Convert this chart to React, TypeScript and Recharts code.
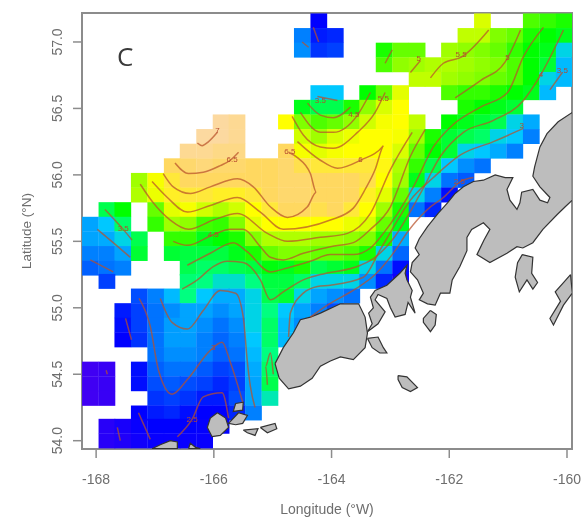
import React from 'react';
import { ScatterChart, Scatter, XAxis, YAxis, ReferenceArea } from 'recharts';

const gridLons = [-168.1, -167.82, -167.55, -167.27, -166.99, -166.71, -166.44, -166.16, -165.88, -165.61, -165.33, -165.05, -164.77, -164.5, -164.22, -163.94, -163.66, -163.39, -163.11, -162.83, -162.55, -162.28, -162.0, -161.72, -161.44, -161.17, -160.89, -160.61, -160.33, -160.05];
const gridLats = [57.16, 57.05, 56.94, 56.83, 56.72, 56.62, 56.51, 56.4, 56.29, 56.18, 56.07, 55.96, 55.85, 55.74, 55.63, 55.52, 55.41, 55.3, 55.2, 55.09, 54.98, 54.87, 54.76, 54.65, 54.54, 54.43, 54.32, 54.21, 54.11, 54.0];

const _ = null;
// one row per latitude, top to bottom, one value per longitude
const gridValues: (number | null)[][] = [
  [_, _, _, _, _, _, _, _, _, _, _, _, _, _, 2.0, _, _, _, _, _, _, _, _, _, 5.6, _, _, 4.8, 4.7, 4.6],
  [_, _, _, _, _, _, _, _, _, _, _, _, _, 3.0, 2.2, 2.3, _, _, _, _, _, _, _, 5.4, 5.4, 5.0, 4.9, 4.6, 4.5, 4.4],
  [_, _, _, _, _, _, _, _, _, _, _, _, _, 3.1, 2.4, 2.5, _, _, 4.6, 4.9, 4.9, _, 5.2, 5.1, 5.0, 4.9, 4.7, 4.5, 4.4, 3.6],
  [_, _, _, _, _, _, _, _, _, _, _, _, _, _, _, _, _, _, 4.8, 5.1, 5.2, 5.3, 5.3, 5.2, 5.1, 5.0, 4.8, 4.5, 4.3, 3.4],
  [_, _, _, _, _, _, _, _, _, _, _, _, _, _, _, _, _, _, _, _, 5.4, 5.4, 5.2, 5.1, 5.0, 4.9, 4.8, 4.5, 3.6, 3.4],
  [_, _, _, _, _, _, _, _, _, _, _, _, _, _, 3.5, 3.5, _, 4.5, 4.9, 5.7, _, _, 4.8, 4.7, 4.7, 4.6, 4.5, 4.4, 3.4, _],
  [_, _, _, _, _, _, _, _, _, _, _, _, _, 4.4, 4.2, 4.2, 4.6, 5.1, 5.6, 6.0, _, _, _, 4.6, 4.5, 4.4, 4.3, _, _, _],
  [_, _, _, _, _, _, _, _, 7.0, 6.9, _, _, 6.0, 5.0, 4.8, 4.9, 5.1, 5.5, 5.9, 6.0, 5.4, _, 4.5, 4.4, 4.3, 4.2, 3.6, 3.3, _, _],
  [_, _, _, _, _, _, _, 7.0, 7.0, 6.9, _, _, _, 5.5, 5.2, 5.6, 5.8, 6.0, 6.0, 5.9, 5.2, 4.6, 4.3, 4.2, 4.1, 3.6, 3.5, 3.0, _, _],
  [_, _, _, _, _, _, 6.9, 6.9, 6.8, 6.8, _, _, 6.5, 5.9, 5.7, 5.9, 6.0, 6.0, 6.0, 5.6, 4.9, 4.5, 4.3, 3.6, 3.5, 3.3, 3.0, _, _, _],
  [_, _, _, _, _, 6.5, 6.6, 6.7, 6.6, 6.6, 6.5, 6.5, 6.6, 6.4, 6.3, 6.3, 6.3, 6.3, 6.1, 5.3, 4.7, 4.2, 3.5, 3.1, 2.9, _, _, _, _, _],
  [_, _, _, 5.2, 5.9, 6.3, 6.5, 6.5, 6.5, 6.5, 6.5, 6.5, 6.6, 6.6, 6.5, 6.5, 6.5, 6.4, 6.0, 5.2, 4.4, 3.6, 2.9, 2.7, _, _, _, _, _, _],
  [_, _, _, 5.3, 5.8, 6.2, 6.3, 6.3, 6.2, 6.2, 6.3, 6.5, 6.6, 6.6, 6.5, 6.5, 6.5, 6.2, 5.7, 4.9, 3.6, 3.0, 2.1, _, _, _, _, _, _, _],
  [_, 4.2, 4.5, _, 4.9, 5.7, 5.9, 5.5, 5.3, 5.5, 6.0, 6.3, 6.5, 6.5, 6.4, 6.5, 6.3, 6.0, 5.2, 4.6, 2.9, 2.3, _, _, _, _, _, _, _, _],
  [3.25, 3.5, 4.1, _, 4.7, 5.2, 5.1, 4.75, 4.7, 5.0, 5.7, 6.0, 6.0, 6.0, 6.0, 6.0, 5.8, 5.6, 4.9, 4.4, _, _, _, _, _, _, _, _, _, _],
  [3.25, 3.3, 3.6, 4.2, _, 4.7, 4.7, 4.4, 4.5, 4.6, 5.0, 5.3, 5.3, 5.3, 5.2, 5.2, 5.1, 5.0, 4.6, 3.3, _, _, _, _, _, _, _, _, _, _],
  [3.0, 3.0, 3.25, 4.3, _, 4.3, 4.25, 4.25, 4.25, 4.4, 4.6, 4.9, 5.0, 5.0, 4.9, 4.9, 4.8, 4.6, 3.6, 2.8, _, _, _, _, _, _, _, _, _, _],
  [2.75, 2.9, 3.0, _, _, _, 4.2, 4.1, 4.1, 4.2, 4.25, 4.45, 4.4, 4.6, 4.2, 4.3, 4.4, 3.6, 2.9, 2.1, _, _, _, _, _, _, _, _, _, _],
  [_, 2.5, _, _, _, _, 4.05, 4.0, 3.7, 3.7, 4.0, 4.25, 4.25, 4.1, 3.6, 3.6, 3.6, 3.1, 2.3, 1.8, _, _, _, _, _, _, _, _, _, _],
  [_, _, _, 2.6, 3.0, 3.4, 4.0, 3.5, 3.3, 3.3, 3.6, 4.2, 4.3, 3.6, 3.25, 3.1, 2.9, _, _, _, _, _, _, _, _, _, _, _, _, _],
  [_, _, 2.2, 2.5, 2.9, 3.1, 3.25, 3.25, 3.1, 3.25, 3.6, 4.0, 3.5, 3.25, 3.0, 2.6, _, _, _, _, _, _, _, _, _, _, _, _, _, _],
  [_, _, 2.1, 2.5, 2.9, 3.2, 3.25, 3.1, 2.9, 3.1, 3.6, 4.1, 3.4, 3.1, _, _, _, _, _, _, _, _, _, _, _, _, _, _, _, _],
  [_, _, 2.0, 2.4, 2.9, 3.2, 3.2, 3.0, 2.8, 3.0, 3.5, 4.1, 3.4, _, _, _, _, _, _, _, _, _, _, _, _, _, _, _, _, _],
  [_, _, _, _, 2.9, 3.1, 3.1, 3.0, 2.75, 2.9, 3.4, 4.0, _, _, _, _, _, _, _, _, _, _, _, _, _, _, _, _, _, _],
  [1.2, 1.3, _, 2.1, 2.75, 2.9, 2.9, 2.7, 2.5, 2.6, 3.3, 4.1, _, _, _, _, _, _, _, _, _, _, _, _, _, _, _, _, _, _],
  [1.2, 1.3, _, 2.1, 2.6, 2.7, 2.6, 2.5, 2.3, 2.5, 3.25, 4.2, _, _, _, _, _, _, _, _, _, _, _, _, _, _, _, _, _, _],
  [1.2, 1.3, _, _, 2.4, 2.5, 2.4, 2.2, 2.2, 2.6, 3.25, 3.8, _, _, _, _, _, _, _, _, _, _, _, _, _, _, _, _, _, _],
  [_, _, _, 2.0, 2.2, 2.3, 2.1, 2.0, 2.0, 2.3, 3.0, _, _, _, _, _, _, _, _, _, _, _, _, _, _, _, _, _, _, _],
  [_, 1.5, 1.7, 1.9, 2.0, 2.0, 2.0, 1.95, 2.0, _, _, _, _, _, _, _, _, _, _, _, _, _, _, _, _, _, _, _, _, _],
  [_, 1.5, 1.6, 1.8, 1.9, 1.9, 1.9, 1.9, _, _, _, _, _, _, _, _, _, _, _, _, _, _, _, _, _, _, _, _, _, _],
];

type LonLat = [number, number];

const mainland: LonLat[] = [[-159.91, 56.47], [-160.15, 56.4], [-160.34, 56.31], [-160.46, 56.21], [-160.55, 56.06], [-160.58, 55.99], [-160.46, 55.91], [-160.29, 55.83], [-160.33, 55.79], [-160.46, 55.81], [-160.58, 55.89], [-160.77, 55.87], [-160.8, 55.79], [-160.85, 55.74], [-160.97, 55.81], [-161.02, 55.89], [-160.92, 55.98], [-161.05, 55.98], [-161.22, 56.0], [-161.42, 55.96], [-161.59, 55.95], [-161.76, 55.91], [-161.9, 55.86], [-162.03, 55.79], [-162.19, 55.71], [-162.37, 55.61], [-162.51, 55.52], [-162.58, 55.45], [-162.51, 55.4], [-162.63, 55.34], [-162.66, 55.27], [-162.54, 55.21], [-162.44, 55.11], [-162.51, 55.06], [-162.37, 55.03], [-162.24, 55.02], [-162.15, 55.11], [-161.99, 55.11], [-161.95, 55.21], [-161.82, 55.31], [-161.7, 55.43], [-161.7, 55.53], [-161.62, 55.59], [-161.42, 55.64], [-161.31, 55.59], [-161.41, 55.51], [-161.53, 55.4], [-161.31, 55.34], [-161.02, 55.41], [-160.85, 55.46], [-160.75, 55.45], [-160.58, 55.49], [-160.41, 55.59], [-160.17, 55.7], [-160.03, 55.76], [-159.91, 55.81], [-159.91, 56.47]];
const pavlofBlock: LonLat[] = [[-163.39, 54.82], [-163.31, 54.88], [-163.37, 54.96], [-163.29, 55.0], [-163.34, 55.08], [-163.26, 55.13], [-163.06, 55.17], [-162.84, 55.26], [-162.72, 55.32], [-162.75, 55.26], [-162.72, 55.21], [-162.63, 55.13], [-162.66, 55.08], [-162.58, 54.96], [-162.7, 55.04], [-162.75, 54.95], [-162.92, 54.93], [-163.0, 55.0], [-163.06, 55.07], [-163.21, 55.1], [-163.26, 55.06], [-163.09, 54.97], [-163.21, 54.88], [-163.39, 54.82]];
const peninsula: LonLat[] = [[-164.96, 54.58], [-164.82, 54.7], [-164.65, 54.81], [-164.53, 54.91], [-164.36, 54.93], [-164.19, 54.96], [-163.85, 55.03], [-163.54, 55.03], [-163.43, 54.93], [-163.39, 54.81], [-163.43, 54.7], [-163.63, 54.61], [-163.85, 54.63], [-164.02, 54.6], [-164.19, 54.56], [-164.33, 54.47], [-164.53, 54.41], [-164.73, 54.39], [-164.89, 54.47], [-164.96, 54.58]];
const islands: LonLat[][] = [
  [[-163.39, 54.77], [-163.21, 54.78], [-163.12, 54.7], [-163.06, 54.66], [-163.18, 54.66], [-163.31, 54.7], [-163.39, 54.77]],
  [[-162.87, 54.49], [-162.72, 54.48], [-162.54, 54.4], [-162.66, 54.37], [-162.8, 54.4], [-162.87, 54.46], [-162.87, 54.49]],
  [[-162.32, 54.98], [-162.22, 54.95], [-162.24, 54.87], [-162.32, 54.82], [-162.44, 54.89], [-162.44, 54.92], [-162.32, 54.98]],
  [[-160.76, 55.4], [-160.58, 55.38], [-160.6, 55.26], [-160.5, 55.19], [-160.58, 55.14], [-160.68, 55.21], [-160.81, 55.12], [-160.88, 55.23], [-160.84, 55.34], [-160.76, 55.4]],
  [[-159.94, 55.25], [-159.91, 55.11], [-160.06, 55.02], [-160.23, 54.87], [-160.29, 54.92], [-160.11, 55.05], [-160.2, 55.12], [-160.06, 55.19], [-159.94, 55.25]],
  [[-165.94, 54.21], [-165.8, 54.17], [-165.75, 54.1], [-165.89, 54.04], [-166.03, 54.03], [-166.11, 54.1], [-166.06, 54.17], [-165.94, 54.21]],
  [[-165.63, 54.28], [-165.5, 54.29], [-165.51, 54.23], [-165.67, 54.22], [-165.63, 54.28]],
  [[-165.58, 54.21], [-165.43, 54.19], [-165.51, 54.13], [-165.63, 54.12], [-165.75, 54.13], [-165.58, 54.21]],
  [[-165.5, 54.08], [-165.25, 54.09], [-165.3, 54.04], [-165.43, 54.06], [-165.5, 54.08]],
  [[-165.21, 54.1], [-164.96, 54.13], [-164.93, 54.09], [-165.09, 54.06], [-165.21, 54.1]],
  [[-167.05, 53.94], [-166.91, 53.97], [-166.74, 54.0], [-166.62, 53.99], [-166.62, 53.94], [-167.05, 53.94]],
  [[-166.43, 53.94], [-166.4, 53.98], [-166.31, 53.95], [-166.23, 53.94], [-166.43, 53.94]],
];

const contours: LonLat[][] = [
  [[-166.28, 56.24], [-166.2, 56.22], [-166.09, 56.25], [-165.94, 56.32]],
  [[-166.66, 56.09], [-166.43, 56.01], [-166.18, 56.02], [-165.89, 56.07], [-165.72, 56.11], [-165.58, 56.17]],
  [[-166.86, 56.01], [-166.69, 55.91], [-166.4, 55.86], [-166.06, 55.91], [-165.6, 55.97], [-165.33, 55.91], [-165.04, 55.76], [-164.75, 55.68], [-164.41, 55.76], [-164.26, 55.87], [-164.36, 56.01], [-164.58, 56.13], [-164.73, 56.17]],
  [[-164.41, 56.54], [-164.19, 56.45], [-163.97, 56.43], [-163.68, 56.51]],
  [[-164.53, 56.47], [-164.19, 56.32], [-163.97, 56.32], [-163.56, 56.45], [-163.34, 56.62]],
  [[-164.67, 56.44], [-164.48, 56.3], [-164.19, 56.21], [-163.97, 56.2], [-163.56, 56.32], [-163.26, 56.47], [-163.09, 56.62]],
  [[-164.58, 56.25], [-164.19, 56.11], [-163.9, 56.05], [-163.51, 56.11], [-163.12, 56.22], [-163.26, 56.04], [-163.43, 55.89], [-163.63, 55.75], [-164.02, 55.66], [-164.82, 55.59], [-165.21, 55.72], [-165.6, 55.83], [-166.06, 55.77], [-166.45, 55.72], [-166.79, 55.83], [-167.05, 55.95]],
  [[-167.25, 55.93], [-167.03, 55.79], [-166.74, 55.66], [-166.43, 55.59], [-166.01, 55.66], [-165.6, 55.71], [-165.09, 55.56], [-164.75, 55.5], [-164.19, 55.53], [-163.73, 55.56], [-163.34, 55.71], [-163.0, 56.04], [-162.63, 56.32]],
  [[-166.69, 55.5], [-166.45, 55.47], [-166.01, 55.55], [-165.72, 55.59], [-165.5, 55.59], [-165.21, 55.46], [-165.04, 55.38], [-164.82, 55.36], [-164.48, 55.41], [-164.02, 55.46], [-163.63, 55.49], [-163.34, 55.59], [-163.0, 55.76], [-162.66, 56.14], [-162.41, 56.34]],
  [[-166.45, 55.32], [-166.06, 55.41], [-165.67, 55.49], [-165.43, 55.42], [-165.04, 55.27], [-164.75, 55.3], [-164.36, 55.35], [-164.02, 55.4], [-163.63, 55.4], [-163.34, 55.45], [-163.12, 55.56], [-162.61, 55.91], [-162.27, 56.21], [-161.93, 56.38], [-161.47, 56.51], [-161.01, 56.62], [-160.74, 56.89], [-160.4, 57.11]],
  [[-166.54, 55.14], [-166.28, 55.21], [-166.01, 55.31], [-165.77, 55.35], [-165.5, 55.34], [-165.21, 55.21], [-165.04, 55.06], [-164.82, 55.12], [-164.48, 55.21], [-164.19, 55.25], [-163.51, 55.32], [-163.26, 55.38], [-162.97, 55.51], [-162.49, 55.86], [-162.15, 56.14], [-161.76, 56.32], [-161.25, 56.41], [-160.74, 56.56], [-160.45, 56.75], [-160.06, 57.09]],
  [[-160.74, 56.35], [-161.25, 56.25], [-161.81, 56.15], [-162.27, 55.98], [-162.66, 55.81], [-162.97, 55.59], [-163.17, 55.44], [-163.46, 55.23], [-164.02, 55.17], [-164.24, 55.16], [-164.48, 55.11], [-164.7, 54.96], [-164.73, 54.78]],
  [[-161.59, 55.98], [-161.81, 55.95], [-162.1, 55.83], [-162.37, 55.74], [-162.71, 55.57], [-162.92, 55.43], [-163.26, 55.25], [-163.6, 55.14], [-164.07, 55.02], [-164.36, 54.93]],
  [[-166.91, 55.07], [-166.71, 54.89], [-166.45, 54.84], [-166.18, 54.98], [-165.89, 55.13], [-165.63, 55.11], [-165.5, 54.93], [-165.43, 54.59], [-165.38, 54.41], [-165.3, 54.25]],
  [[-167.27, 55.07], [-167.08, 54.86], [-166.94, 54.53], [-166.71, 54.35], [-166.45, 54.46], [-166.06, 54.68], [-165.86, 54.74], [-165.72, 54.59], [-165.51, 54.29]],
  [[-166.62, 54.03], [-166.37, 54.16], [-166.18, 54.33], [-165.86, 54.36], [-165.75, 54.17]],
  [[-167.28, 54.21], [-167.08, 54.01]],
  [[-167.64, 54.1], [-167.59, 54.0]],
  [[-167.5, 54.92], [-167.4, 54.76]],
  [[-167.83, 54.53], [-167.81, 54.5]],
  [[-165.09, 54.42], [-165.12, 54.56], [-165.04, 54.66], [-164.99, 54.5]],
  [[-167.85, 55.74], [-167.54, 55.59], [-167.39, 55.51]],
  [[-167.98, 55.59], [-167.71, 55.49], [-167.42, 55.38]],
  [[-168.1, 55.36], [-167.71, 55.27]],
  [[-164.5, 57.0], [-164.39, 56.96]],
  [[-164.31, 57.11], [-164.22, 57.0]],
  [[-164.24, 56.59], [-163.9, 56.56]],
  [[-162.97, 56.94], [-163.09, 56.84]],
  [[-162.49, 56.86], [-162.66, 56.77]],
  [[-161.33, 57.09], [-161.78, 56.89], [-162.1, 56.84], [-162.32, 56.73]],
  [[-160.79, 57.09], [-161.05, 56.85], [-161.47, 56.71], [-161.9, 56.58]],
  [[-160.08, 56.77], [-160.29, 56.64]],
];

const contourLabels = [
  { lon: -165.94, lat: 56.33, text: '7' },
  { lon: -165.69, lat: 56.11, text: '6.5' },
  { lon: -164.71, lat: 56.17, text: '6.5' },
  { lon: -163.51, lat: 56.11, text: '6' },
  { lon: -164.19, lat: 56.56, text: '3.5' },
  { lon: -163.62, lat: 56.45, text: '4.5' },
  { lon: -163.12, lat: 56.57, text: '5.5' },
  { lon: -162.52, lat: 56.87, text: '5' },
  { lon: -161.8, lat: 56.9, text: '5.5' },
  { lon: -161.01, lat: 56.88, text: '5' },
  { lon: -160.44, lat: 56.75, text: '4' },
  { lon: -160.08, lat: 56.78, text: '3.5' },
  { lon: -161.83, lat: 55.95, text: '2.5' },
  { lon: -160.77, lat: 56.37, text: '3' },
  { lon: -166.01, lat: 55.55, text: '4.5' },
  { lon: -167.54, lat: 55.59, text: '3.5' },
  { lon: -166.01, lat: 54.7, text: '3' },
  { lon: -166.37, lat: 54.16, text: '2.5' },
];

const lonTicks = [-168, -166, -164, -162, -160];
const latTicks = [54, 54.5, 55, 55.5, 56, 56.5, 57];

const colorStops: [number, number[]][] = [
  [1, [80, 0, 240]], [2, [0, 0, 255]], [3, [0, 128, 255]], [3.5, [0, 200, 255]], [4, [0, 255, 128]],
  [4.5, [0, 255, 0]], [5, [128, 255, 0]], [5.5, [208, 255, 0]], [6, [255, 255, 0]], [6.5, [255, 216, 96]], [7, [252, 217, 160]],
];

const valueColor = (v: number): string => {
  for (let i = 1; i < colorStops.length; i++) {
    const [v1, c1] = colorStops[i];
    const [v0, c0] = colorStops[i - 1];
    if (v <= v1) {
      const t = Math.max(0, (v - v0) / (v1 - v0));
      return `rgb(${c0.map((c, k) => Math.round(c + (c1[k] - c) * t)).join(',')})`;
    }
  }
  return 'rgb(252,217,160)';
};

const toPoints = (line: LonLat[]) => line.map(([lon, lat]) => ({ lon, lat }));

const cells = gridValues.flatMap((row, r) =>
  row.flatMap((value, c) => (value === null ? [] : [{ lon: gridLons[c], lat: gridLats[r], value }])),
);

const WIDTH = 582;
const HEIGHT = 521;
const LEFT = 82;
const RIGHT = 10;
const TOP = 13;
const BOTTOM = 72;
const CELL_W = (WIDTH - LEFT - RIGHT) / gridLons.length;
const CELL_H = (HEIGHT - TOP - BOTTOM) / gridLats.length;

const FONT = '"Liberation Sans", Arial, sans-serif';
const GREY = '#6e6e6e';
const FRAME = '#8c8c8c';

const CellShape = (props: any) => (
  <rect
    x={props.cx - CELL_W / 2}
    y={props.cy - CELL_H / 2}
    width={CELL_W + 0.4}
    height={CELL_H + 0.4}
    fill={valueColor(props.payload.value)}
  />
);

const NoPoint = () => null;

const LabelShape = (props: any) => (
  <text x={props.cx} y={props.cy} fontSize={8} fontFamily={FONT} fill="#b5492f" textAnchor="middle" dominantBaseline="middle">
    {props.payload.text}
  </text>
);

const LatTick = ({ x, y, payload }: any) => (
  <text
    x={x}
    y={y}
    transform={`rotate(-90 ${x} ${y})`}
    textAnchor="middle"
    fontSize={14}
    fontFamily={FONT}
    fill={GREY}
  >
    {payload.value.toFixed(1)}
  </text>
);

export default function App() {
  return (
    <div style={{ position: 'absolute', left: 0, top: 0, width: WIDTH, height: HEIGHT, filter: 'blur(0.75px)' }}>
      <ScatterChart width={WIDTH} height={HEIGHT} margin={{ top: TOP, right: RIGHT, bottom: 0, left: 0 }}>
        <XAxis
          type="number"
          dataKey="lon"
          domain={[-168.24, -159.915]}
          ticks={lonTicks}
          allowDataOverflow
          height={BOTTOM}
          axisLine={false}
          tickSize={9}
          tickMargin={16}
          tickLine={{ stroke: FRAME, strokeWidth: 1.5 }}
          tick={{ fill: GREY, fontSize: 14, fontFamily: FONT }}
          label={{ value: 'Longitude (°W)', position: 'insideBottom', offset: 7, fill: GREY, fontSize: 14, fontFamily: FONT }}
        />
        <YAxis
          type="number"
          dataKey="lat"
          domain={[53.9375, 57.218]}
          ticks={latTicks}
          allowDataOverflow
          width={LEFT}
          axisLine={false}
          tickSize={9}
          tickMargin={11}
          tickLine={{ stroke: FRAME, strokeWidth: 1.5 }}
          tick={<LatTick />}
          label={{ value: 'Latitude (°N)', angle: -90, position: 'insideLeft', offset: 26, textAnchor: 'middle', fill: GREY, fontSize: 13.5, fontFamily: FONT }}
        />
        <Scatter data={cells} shape={<CellShape />} isAnimationActive={false} />
        {[mainland, pavlofBlock, peninsula, ...islands].map((land, i) => (
          <Scatter
            key={`land-${i}`}
            data={toPoints(land)}
            shape={NoPoint}
            line={{ fill: '#bdbdbd', stroke: '#333333', strokeWidth: 1.2 }}
            isAnimationActive={false}
          />
        ))}
        {contours.map((line, i) => (
          <Scatter
            key={`contour-${i}`}
            data={toPoints(line)}
            shape={NoPoint}
            line={{ stroke: '#b8502a', strokeOpacity: 0.72, strokeWidth: 1.5 }}
            lineJointType="monotone"
            isAnimationActive={false}
          />
        ))}
        <Scatter data={contourLabels} shape={<LabelShape />} isAnimationActive={false} />
        <ReferenceArea
          x1={-168.24}
          x2={-159.915}
          y1={53.9375}
          y2={57.218}
          fill="none"
          stroke={FRAME}
          strokeWidth={2}
          ifOverflow="visible"
        />
      </ScatterChart>
      <div style={{ position: 'absolute', left: 117, top: 38, fontFamily: '"Open Sans", sans-serif', fontSize: 26, color: '#3a3a3a' }}>C</div>
    </div>
  );
}
